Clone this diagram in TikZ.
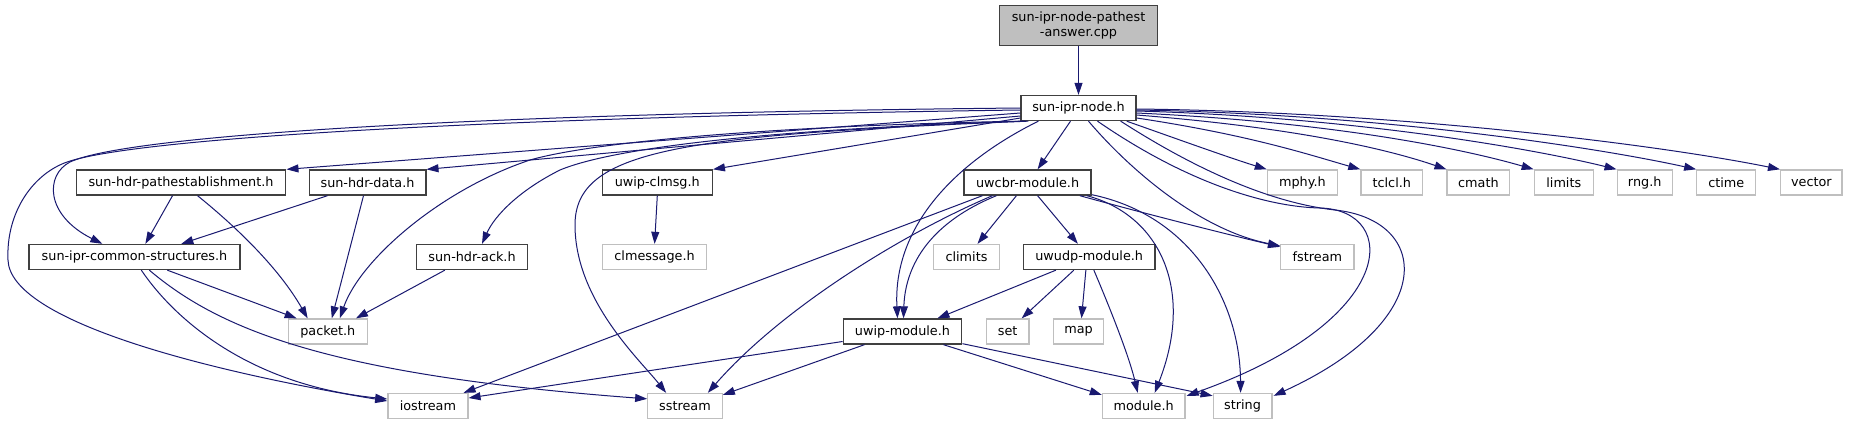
\documentclass[tikz,border=0pt]{standalone}
\usepackage{fontspec}
\setmainfont{DejaVu Sans}
\usetikzlibrary{arrows.meta,calc}
\definecolor{grey25}{HTML}{404040}
\definecolor{grey75}{HTML}{BFBFBF}
\definecolor{midblue}{HTML}{191970}
\begin{document}
\begin{tikzpicture}[x=0.75pt,y=-0.75pt,
 base/.style={rectangle, line width=1pt, minimum height=18.75pt, inner sep=0pt, font=\fontsize{9.6pt}{11.5pt}\selectfont, text=black},
 docbox/.style={base, draw=grey25, fill=white},
 sysbox/.style={base, draw=grey75, fill=white},
 rootbox/.style={base, draw=grey25, fill=grey75, minimum height=30pt, align=center},
 edge/.style={draw=midblue, line width=0.75pt, -{Triangle[length=9pt,width=6pt]}}]
\fill[white] (0,0) rectangle (1849,425);
\useasboundingbox (0,0) rectangle (1849,425);
% nodes
\node[rootbox, minimum width=118.5pt] (cpp) at (1078.5,25.7) {sun-ipr-node-pathest\\-answer.cpp};
\node[docbox, minimum width=86.25pt] (N) at (1078.5,108) {sun-ipr-node.h};
\node[docbox, minimum width=157.2pt] (pathest) at (181,182.5) {sun-hdr-pathestablishment.h};
\node[docbox, minimum width=87.5pt] (data) at (367.5,182.5) {sun-hdr-data.h};
\node[docbox, minimum width=82.5pt] (clmsg) at (657.3,182.5) {uwip-clmsg.h};
\node[docbox, minimum width=95.25pt] (uwcbr) at (1027.6,182.5) {uwcbr-module.h};
\node[sysbox, minimum width=52.5pt] (mphy) at (1302.4,182.5) {mphy.h};
\node[sysbox, minimum width=46.3pt] (tclcl) at (1391.8,182.5) {tclcl.h};
\node[sysbox, minimum width=46.9pt] (cmath) at (1478.4,182.5) {cmath};
\node[sysbox, minimum width=44.25pt] (limits) at (1563.8,182.5) {limits};
\node[sysbox, minimum width=41.25pt] (rng) at (1644.7,182.5) {rng.h};
\node[sysbox, minimum width=44.25pt] (ctime) at (1726.3,182.5) {ctime};
\node[sysbox, minimum width=46.1pt] (vector) at (1811.4,182.5) {vector};
\node[docbox, minimum width=158.25pt] (common) at (134.5,257) {sun-ipr-common-structures.h};
\node[docbox, minimum width=83.25pt] (ack) at (472,257) {sun-hdr-ack.h};
\node[sysbox, minimum width=78.3pt] (clmessage) at (654.6,257) {clmessage.h};
\node[sysbox, minimum width=49.9pt] (climits) at (966.5,257) {climits};
\node[docbox, minimum width=98.5pt] (uwudp) at (1089.2,257) {uwudp-module.h};
\node[sysbox, minimum width=55pt] (fstream) at (1317.4,257) {fstream};
\node[sysbox, minimum width=59.25pt] (packet) at (327.8,331.5) {packet.h};
\node[docbox, minimum width=88.95pt] (uwipmod) at (902.5,331.5) {uwip-module.h};
\node[sysbox, minimum width=32pt] (set) at (1007.7,331.5) {set};
\node[sysbox, minimum width=37.95pt] (map) at (1078.5,331.5) {map};
\node[sysbox, minimum width=60pt] (iostream) at (427.9,406) {iostream};
\node[sysbox, minimum width=55.8pt] (sstream) at (685,406) {sstream};
\node[sysbox, minimum width=61.9pt] (module) at (1143.7,406) {module.h};
\node[sysbox, minimum width=44pt] (string) at (1242.6,406) {string};
% edges
\draw[edge] (cpp.south) -- (N.north);
% from sun-ipr-node.h
\draw[edge] ($(N.west)+(0,2)$) .. controls (500,117) and (120,138) .. (62,164) .. controls (30,178) and (6,215) .. (8,260) .. controls (10,320) and (200,370) .. ($(iostream.west)+(0,-5)$);
\draw[edge] (N.west) .. controls (500,113) and (130,134) .. (70,162) .. controls (45,175) and (45,215) .. ($(common.north west)+(74,0)$);
\draw[edge] ($(N.west)+(0,5)$) -- (pathest.north east);
\draw[edge] ($(N.west)+(0,8)$) -- (data.north east);
\draw[edge] ($(N.south west)+(2,0)$) .. controls (800,125) and (600,140) .. (530,160) .. controls (440,190) and (360,260) .. ($(packet.north)+(12,0)$);
\draw[edge] ($(N.south west)+(5,0)$) .. controls (800,128) and (620,145) .. (560,170) .. controls (520,190) and (495,215) .. ($(ack.north)+(10,0)$);
\draw[edge] ($(N.south west)+(8,0)$) .. controls (680,135) and (575,150) .. (575,225) .. controls (575,300) and (640,360) .. ($(sstream.north west)+(19,0)$);
\draw[edge] ($(N.west)+(0,10)$) -- (clmsg.north east);
\draw[edge] ($(N.south)+(-8,0)$) -- ($(uwcbr.north)+(10,0)$);
\draw[edge] ($(N.south west)+(18,0)$) .. controls (950,165) and (893,230) .. ($(uwipmod.north)+(-5,0)$);
\draw[edge] ($(N.south)+(10,0)$) .. controls (1130,170) and (1200,230) .. ($(fstream.north west)+(0,2)$);
\draw[edge] ($(N.south)+(19,0)$) .. controls (1190,185) and (1270,207) .. (1320,208) .. controls (1400,210) and (1400,320) .. ($(module.north east)+(1,3)$);
\draw[edge] ($(N.south east)+(-16,0)$) .. controls (1220,185) and (1290,205) .. (1335,210) .. controls (1430,220) and (1440,320) .. ($(string.north east)+(1,3)$);
\draw[edge] ($(N.south east)+(-10,0)$) .. controls (1180,140) and (1230,158) .. (mphy.north west);
\draw[edge] ($(N.east)+(0,10)$) .. controls (1250,135) and (1310,155) .. (tclcl.north west);
\draw[edge] ($(N.east)+(0,7)$) .. controls (1300,128) and (1390,150) .. (cmath.north west);
\draw[edge] ($(N.east)+(0,5)$) .. controls (1330,122) and (1460,148) .. (limits.north west);
\draw[edge] ($(N.east)+(0,3)$) .. controls (1350,117) and (1530,148) .. (rng.north west);
\draw[edge] ($(N.east)+(0,2)$) .. controls (1380,114) and (1600,148) .. (ctime.north west);
\draw[edge] ($(N.east)+(0,1)$) .. controls (1400,112) and (1660,145) .. (vector.north west);
% left headers
\draw[edge] ($(pathest.south west)+(97,0)$) -- ($(common.north west)+(117,0)$);
\draw[edge] ($(pathest.south west)+(122,0)$) .. controls (240,230) and (280,270) .. ($(packet.north west)+(20,0)$);
\draw[edge] ($(data.south west)+(19,0)$) -- ($(common.north west)+(153,0)$);
\draw[edge] ($(data.south west)+(55,0)$) -- ($(packet.north)+(4,0)$);
\draw[edge] ($(ack.south west)+(29,0)$) -- ($(packet.north east)+(-12,0)$);
\draw[edge] ($(common.south west)+(139,0)$) -- ($(packet.north west)+(9,0)$);
\draw[edge] ($(common.south west)+(113,0)$) .. controls (175,320) and (250,385) .. ($(iostream.west)+(0,-7)$);
\draw[edge] ($(common.south west)+(121,0)$) .. controls (220,330) and (330,375) .. ($(sstream.north west)+(0,6)$);
\draw[edge] (clmsg.south) -- (clmessage.north);
% uwcbr-module.h
\draw[edge] ($(uwcbr.south west)+(19,0)$) -- ($(iostream.north east)+(-5,0)$);
\draw[edge] ($(uwcbr.south west)+(29,0)$) .. controls (900,235) and (780,310) .. ($(sstream.north east)+(-15,0)$);
\draw[edge] ($(uwcbr.south west)+(33,0)$) .. controls (925,225) and (905,270) .. ($(uwipmod.north)+(1,0)$);
\draw[edge] ($(uwcbr.south west)+(53,0)$) -- ($(climits.north)+(11,0)$);
\draw[edge] ($(uwcbr.south)+(10,0)$) -- ($(uwudp.north west)+(55,0)$);
\draw[edge] ($(uwcbr.south east)+(-12,0)$) .. controls (1150,215) and (1230,235) .. ($(fstream.north west)+(0,3)$);
\draw[edge] ($(uwcbr.south east)+(-5,0)$) .. controls (1160,215) and (1195,290) .. ($(module.north)+(11,0)$);
\draw[edge] ($(uwcbr.south east)+(0,-1)$) .. controls (1190,215) and (1240,300) .. ($(string.north)+(-2,0)$);
% uwudp-module.h
\draw[edge] ($(uwudp.south west)+(33,0)$) -- ($(uwipmod.north east)+(-25,0)$);
\draw[edge] ($(uwudp.south west)+(51,0)$) -- ($(set.north)+(14,0)$);
\draw[edge] ($(uwudp.south west)+(63,0)$) -- ($(map.north)+(3,0)$);
\draw[edge] ($(uwudp.south west)+(71,0)$) .. controls (1115,320) and (1130,360) .. ($(module.north)+(-6,0)$);
% uwip-module.h
\draw[edge] ($(uwipmod.west)+(0,10)$) -- ($(iostream.east)+(0,-8)$);
\draw[edge] ($(uwipmod.south west)+(22,0)$) -- ($(sstream.north east)+(0,2)$);
\draw[edge] ($(uwipmod.south east)+(-19,0)$) -- ($(module.north west)+(0,2)$);
\draw[edge] ($(uwipmod.south east)+(0,-1)$) -- ($(string.north west)+(0,3)$);
\end{tikzpicture}
\end{document}
